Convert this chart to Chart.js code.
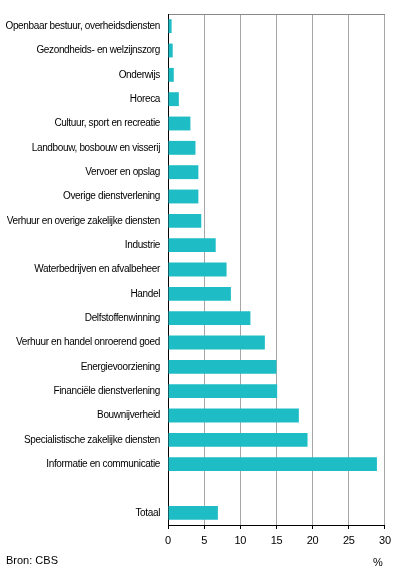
<!DOCTYPE html>
<html>
<head>
<meta charset="utf-8">
<script src="https://cdn.jsdelivr.net/npm/chart.js@4"></script>
<style>
  body { margin: 0; background: #fff; }
  #wrap { position: relative; width: 396px; height: 574px; font-family: 'Liberation Sans', Arial, sans-serif; }
  #bron { position: absolute; left: 6px; top: 554px; font-size: 11px; color: #000; }
  #unit { position: absolute; left: 373px; top: 556px; font-size: 11px; color: #000; }
</style>
</head>
<body>
<div id="wrap">
  <canvas id="chart" width="396" height="574"></canvas>
  <div id="bron">Bron: CBS</div>
  <div id="unit">%</div>
</div>
<script>
const categories = [
  'Openbaar bestuur, overheidsdiensten',
  'Gezondheids- en welzijnszorg',
  'Onderwijs',
  'Horeca',
  'Cultuur, sport en recreatie',
  'Landbouw, bosbouw en visserij',
  'Vervoer en opslag',
  'Overige dienstverlening',
  'Verhuur en overige zakelijke diensten',
  'Industrie',
  'Waterbedrijven en afvalbeheer',
  'Handel',
  'Delfstoffenwinning',
  'Verhuur en handel onroerend goed',
  'Energievoorziening',
  'Financiële dienstverlening',
  'Bouwnijverheid',
  'Specialistische zakelijke diensten',
  'Informatie en communicatie',
  '',
  'Totaal',
]
const values = [0.5, 0.65, 0.8, 1.5, 3.1, 3.8, 4.2, 4.2, 4.6, 6.6, 8.1, 8.7, 11.4, 13.4, 15.0, 15.1, 18.1, 19.3, 28.9, null, 6.9]
const xTicks = [0, 5, 10, 15, 20, 25, 30]

const fontFamily = "'Liberation Sans', Arial, sans-serif"

// labels in the original are a bit condensed
const tightText = {
  id: 'tightText',
  beforeDraw: (chart) => {
    chart.ctx.letterSpacing = '-0.35px'
  },
  afterDraw: (chart) => {
    chart.ctx.letterSpacing = '0px'
  },
}

new Chart(document.getElementById('chart'), {
  type: 'bar',
  data: {
    labels: categories,
    datasets: [
      {
        data: values,
        backgroundColor: '#1ebdc6',
        borderWidth: 0,
        categoryPercentage: 1,
        barPercentage: 0.57,
      },
    ],
  },
  options: {
    indexAxis: 'y',
    responsive: false,
    animation: false,
    layout: { padding: { left: 0, right: 11, top: 12, bottom: 0 } },
    plugins: { legend: { display: false }, tooltip: { enabled: false } },
    scales: {
      x: {
        min: 0,
        max: 30,
        afterBuildTicks: (scale) => {
          scale.ticks = xTicks.map((v) => ({ value: v }))
        },
        afterFit: (scale) => {
          scale.height = 49
        },
        grid: { color: '#a6a6a6', tickColor: '#000', tickLength: 4 },
        border: { color: '#000' },
        ticks: { color: '#000', padding: 5, font: { family: fontFamily, size: 11 } },
      },
      x2: {
        position: 'top',
        min: 0,
        max: 30,
        grid: { display: false },
        border: { color: '#888' },
        ticks: { display: false },
        afterFit: (scale) => {
          scale.height = 0
        },
      },
      y: {
        afterFit: (scale) => {
          scale.width = 168
        },
        grid: { display: false, drawTicks: false },
        border: { color: '#000' },
        ticks: { color: '#000', padding: 8, font: { family: fontFamily, size: 10 }, autoSkip: false },
      },
    },
  },
  plugins: [tightText],
})
</script>
</body>
</html>
